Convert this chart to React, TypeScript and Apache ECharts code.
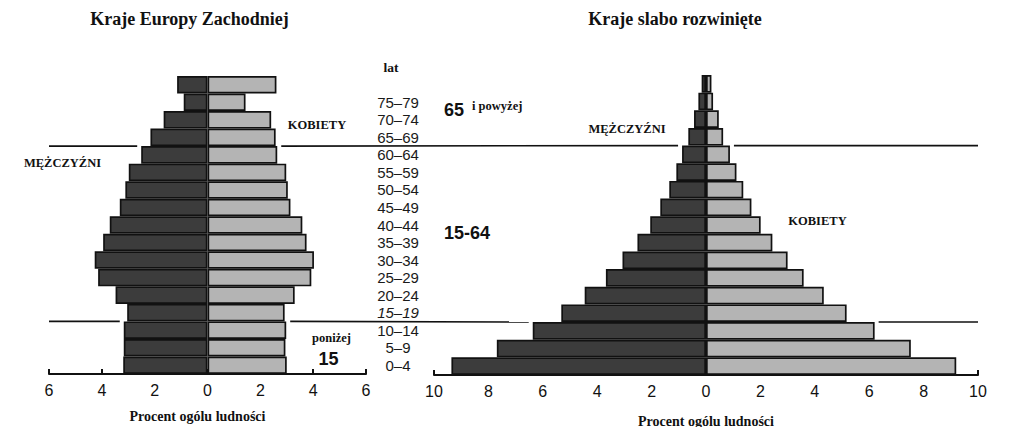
import React, { useEffect, useRef } from 'react';
import * as echarts from 'echarts';

const ageGroups = ['0–4', '5–9', '10–14', '15–19', '20–24', '25–29', '30–34', '35–39', '40–44', '45–49', '50–54', '55–59', '60–64', '65–69', '70–74', '75–79', '80+'];
// Kraje Europy Zachodniej (percent of total population)
const westMen = [3.19, 3.17, 3.17, 3.04, 3.48, 4.14, 4.27, 3.95, 3.7, 3.32, 3.11, 2.98, 2.51, 2.16, 1.66, 0.9, 1.15];
const westWomen = [3.0, 2.95, 2.98, 2.92, 3.3, 3.93, 4.03, 3.75, 3.59, 3.14, 3.04, 2.98, 2.64, 2.58, 2.41, 1.44, 2.61];
// Kraje słabo rozwinięte
const devMen = [9.36, 7.69, 6.37, 5.32, 4.46, 3.68, 3.07, 2.52, 2.05, 1.68, 1.35, 1.09, 0.88, 0.65, 0.44, 0.28, 0.16];
const devWomen = [9.2, 7.53, 6.2, 5.17, 4.33, 3.59, 3.0, 2.44, 2.01, 1.67, 1.37, 1.12, 0.88, 0.63, 0.47, 0.26, 0.2];
const westTicks = { min: -6, max: 6, interval: 2 };
const devTicks = { min: -10, max: 10, interval: 2 };
// boundaries (between category i and i+1) where the age-bracket lines are drawn
const dividerAfter = [2, 12];

const SERIF = '"Liberation Serif", "Times New Roman", serif';
const SANS = '"Liberation Sans", Arial, sans-serif';
const MEN = '#3c3c3c';
const WOMEN = '#b4b4b4';
const INK = '#111';

export default function App() {
  const ref = useRef<HTMLDivElement>(null);
  useEffect(() => {
    const chart = echarts.init(ref.current!, null, { renderer: 'svg' });
    const barStyle = (color: string) => ({ color, borderColor: INK, borderWidth: 1.7 });
    const xAxisBase = (gridIndex: number, ticks: any, nameGap: number, padding: number[]) => ({
      type: 'value',
      gridIndex,
      min: ticks.min,
      max: ticks.max,
      interval: ticks.interval,
      name: 'Procent ogólu ludności',
      nameLocation: 'middle',
      nameGap,
      nameTextStyle: { fontFamily: SERIF, fontWeight: 'bold', fontSize: 14, color: INK, padding },
      axisLine: { show: true, onZero: false, lineStyle: { color: INK, width: 2 } },
      axisTick: { show: true, inside: true, length: 5, lineStyle: { color: INK, width: 2 } },
      splitLine: { show: false },
      axisLabel: {
        margin: 8,
        fontFamily: SANS,
        fontSize: 16,
        color: INK,
        formatter: (v: number) => String(Math.abs(v)),
      },
    });

    chart.setOption({
      animation: false,
      backgroundColor: '#fff',
      grid: [
        { left: 49, top: 76, width: 317, height: 298, outerBoundsMode: 'none', containLabel: false },
        { left: 434, top: 75, width: 544, height: 300, outerBoundsMode: 'none', containLabel: false },
      ],
      xAxis: [xAxisBase(0, westTicks, 35, [0, 20, 0, 0]), xAxisBase(1, devTicks, 39, [0, 0, 0, 0])],
      yAxis: [
        {
          type: 'category',
          gridIndex: 0,
          data: ageGroups,
          position: 'right',
          axisLine: { show: false },
          axisTick: { show: false },
          axisLabel: {
            interval: 0,
            margin: 32,
            align: 'center',
            fontFamily: SANS,
            fontSize: 15,
            color: '#1a1a1a',
            formatter: (v: string) => (v === '80+' ? '' : v === '15–19' ? '{i|' + v + '}' : v),
            rich: { i: { fontFamily: SANS, fontSize: 15, fontStyle: 'italic', color: '#1a1a1a' } },
          },
        },
        {
          type: 'category',
          gridIndex: 1,
          data: ageGroups,
          axisLine: { show: false },
          axisTick: { show: false },
          axisLabel: { show: false },
        },
      ],
      series: [
        { name: 'Mężczyźni', type: 'bar', xAxisIndex: 0, yAxisIndex: 0, data: westMen.map((v) => -v), barGap: '-100%', barCategoryGap: '0%', itemStyle: barStyle(MEN) },
        { name: 'Kobiety', type: 'bar', xAxisIndex: 0, yAxisIndex: 0, data: westWomen, barGap: '-100%', barCategoryGap: '0%', itemStyle: barStyle(WOMEN) },
        { name: 'Mężczyźni', type: 'bar', xAxisIndex: 1, yAxisIndex: 1, data: devMen.map((v) => -v), barGap: '-100%', barCategoryGap: '0%', itemStyle: barStyle(MEN) },
        { name: 'Kobiety', type: 'bar', xAxisIndex: 1, yAxisIndex: 1, data: devWomen, barGap: '-100%', barCategoryGap: '0%', itemStyle: barStyle(WOMEN) },
      ],
    });

    const txt = (text: string, x: number, y: number, font: string, size: number, align = 'center') => ({
      type: 'text',
      x,
      y,
      style: { text, fontFamily: font, fontWeight: 'bold', fontSize: size, fill: INK, align, verticalAlign: 'middle' },
    });

    // divider lines computed from the axes
    const gap = 4;
    const lines: any[] = [];
    const leftEdge = (chart.convertToPixel({ gridIndex: 0 }, [westTicks.min, 0]) as number[])[0];
    const rightEdge = (chart.convertToPixel({ gridIndex: 1 }, [devTicks.max, 0]) as number[])[0];
    dividerAfter.forEach((i) => {
      const pts = [
        { g: 0, men: westMen, women: westWomen },
        { g: 1, men: devMen, women: devWomen },
      ].map(({ g, men, women }) => {
        const y0 = (chart.convertToPixel({ gridIndex: g }, [0, i]) as number[])[1];
        const y1 = (chart.convertToPixel({ gridIndex: g }, [0, i + 1]) as number[])[1];
        const y = (y0 + y1) / 2;
        const mx = Math.max(men[i], men[i + 1]);
        const wx = Math.max(women[i], women[i + 1]);
        const l = (chart.convertToPixel({ gridIndex: g }, [-mx, i]) as number[])[0] - gap;
        const r = (chart.convertToPixel({ gridIndex: g }, [wx, i]) as number[])[0] + gap;
        return { y, l, r };
      });
      const segs = [
        [leftEdge, pts[0].y, pts[0].l, pts[0].y],
        [pts[0].r, pts[0].y, pts[1].l, pts[1].y],
        [pts[1].r, pts[1].y, rightEdge, pts[1].y],
      ];
      segs.forEach(([x1, y1, x2, y2]) =>
        lines.push({ type: 'line', shape: { x1, y1, x2, y2 }, style: { stroke: INK, lineWidth: 1.6 }, silent: true })
      );
    });

    chart.setOption({
      graphic: [
        txt('Kraje Europy Zachodniej', 189.5, 19, SERIF, 18),
        txt('Kraje slabo rozwinięte', 675, 19, SERIF, 18),
        txt('lat', 391, 67, SERIF, 13.5),
        txt('KOBIETY', 317, 125, SERIF, 12.5),
        txt('MĘŻCZYŹNI', 62.5, 163, SERIF, 12.5),
        txt('65', 444, 110, SANS, 18, 'left'),
        txt('i powyżej', 472, 106, SERIF, 12.5, 'left'),
        txt('15-64', 444, 233, SANS, 18, 'left'),
        txt('poniżej', 331.5, 338, SERIF, 12.5),
        txt('15', 328.5, 359, SANS, 18),
        txt('MĘŻCZYŹNI', 627, 129, SERIF, 12.5),
        txt('KOBIETY', 817.5, 221, SERIF, 12.5),
        ...lines,
      ],
    });

    return () => chart.dispose();
  }, []);
  return <div ref={ref} style={{ position: 'fixed', left: 0, top: 0, width: 1024, height: 427, background: '#fff' }} />;
}
